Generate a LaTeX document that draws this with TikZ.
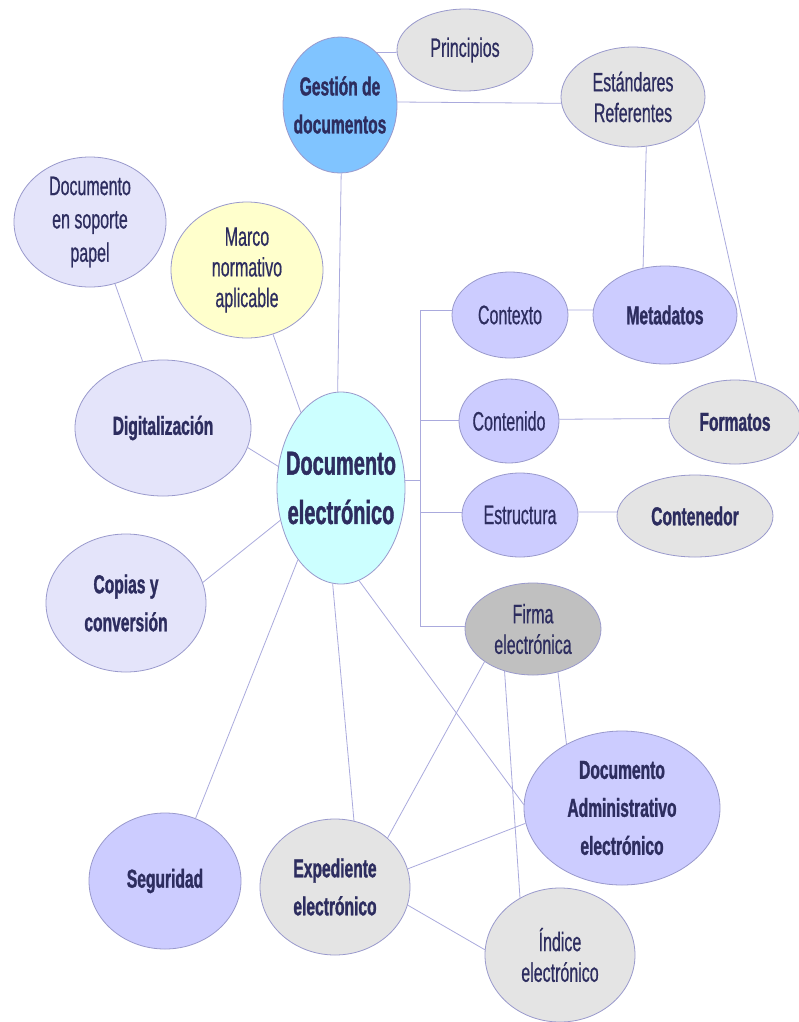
\documentclass[tikz,border=0pt]{standalone}
\usepackage{fontspec}
\setmainfont{Liberation Sans}[FakeStretch=0.6, UprightFeatures={FakeBold=0.6}, BoldFeatures={FakeBold=1.2}]
\usetikzlibrary{shapes.geometric}
\definecolor{cblue}{RGB}{128,196,255}
\definecolor{cgray}{RGB}{228,228,228}
\definecolor{clav}{RGB}{228,228,250}
\definecolor{cyel}{RGB}{255,255,204}
\definecolor{ccyan}{RGB}{204,255,255}
\definecolor{cper}{RGB}{204,204,255}
\definecolor{cfirma}{RGB}{192,192,192}
\definecolor{ink}{RGB}{45,45,95}
\definecolor{bord}{RGB}{153,153,204}
\definecolor{linec}{RGB}{170,170,221}
\tikzset{
  bub/.style={ellipse, draw=bord, line width=0.6pt, inner sep=0pt},
  rt/.style={font=\fontsize{20}{23}\selectfont, text=ink, align=center, inner sep=0pt},
  rtw/.style={font=\fontsize{20}{25}\selectfont, text=ink, align=center, inner sep=0pt},
  bt/.style={font=\fontsize{19.5}{28.5}\selectfont\bfseries, text=ink, align=center, inner sep=0pt},
  btl/.style={font=\fontsize{25}{37}\selectfont\bfseries, text=ink, align=center, inner sep=0pt},
  ln/.style={draw=linec, line width=0.6pt}
}
\newcommand\bubble[8]{%
  \node[bub, fill=#6, minimum width={#4*1.5pt}, minimum height={#5*1.5pt}] (#1) at (#2,#3) {};
  \node[#7] (#1-t) at (#1.center) {#8};}
\begin{document}
\begin{tikzpicture}[x=0.75pt,y=-0.75pt]
\useasboundingbox (0,0) rectangle (799,1022);
\fill[white] (0,0) rectangle (799,1022);
% nodes
\bubble{gest}{340}{105}{57}{68}{cblue}{bt}{Gestión de\\documentos}
\bubble{prin}{465}{50}{68}{41}{cgray}{rt}{Principios}
\bubble{estd}{633}{97}{72}{50}{cgray}{rt}{Estándares\\Referentes}
\bubble{papel}{90}{222}{76}{65}{clav}{rtw}{Documento\\en soporte\\papel}
\bubble{marco}{247}{270}{76}{68}{cyel}{rt}{Marco\\normativo\\aplicable}
\bubble{digit}{163}{428}{88}{68}{clav}{bt}{Digitalización}
\bubble{delec}{341}{488}{64}{96}{ccyan}{btl}{Documento\\electrónico}
\bubble{copias}{126}{603}{80}{69}{clav}{bt}{Copias y\\conversión}
\bubble{ctx}{510}{315}{58}{43}{cper}{rt}{Contexto}
\bubble{meta}{665}{315}{72}{49}{cper}{bt}{Metadatos}
\bubble{cont}{509}{421}{50}{42}{cper}{rt}{Contenido}
\bubble{fmt}{735}{422}{66}{42}{cgray}{bt}{Formatos}
\bubble{estr}{520}{515}{58}{42}{cper}{rt}{Estructura}
\bubble{cnt}{695}{516}{78}{41}{cgray}{bt}{Contenedor}
\bubble{firma}{533}{629}{68}{46}{cfirma}{rt}{Firma\\electrónica}
\bubble{seg}{165}{881}{76}{68}{cper}{bt}{Seguridad}
\bubble{exp}{335}{887}{75}{68}{cgray}{bt}{Expediente\\electrónico}
\bubble{dadm}{622}{808}{98}{77}{cper}{bt}{Documento\\Administrativo\\electrónico}
\bubble{ind}{560}{955}{75}{67}{cgray}{rt}{Índice\\electrónico}
% connectors
\coordinate (bx) at (420,0);
\draw[ln] (gest.55) -- (prin.182);
\draw[ln] (gest.3) -- (estd.185);
\draw[ln] (gest.-89) -- (delec.92);
\draw[ln] (estd.-75) -- (meta.115);
\draw[ln] (estd.-19) -- (fmt.62);
\draw[ln] (papel.-68) -- (digit.107);
\draw[ln] (marco.-68) -- (delec.118);
\draw[ln] (digit.-13) -- (delec.161);
\draw[ln] (copias.15) -- (delec.208);
\draw[ln] (delec.239) -- (seg.64);
\draw[ln] (delec.265) -- (exp.74);
\draw[ln] (delec.281) -- (dadm.178);
\draw[ln] (ctx.175) -- (ctx.175 -| bx) -- (firma.178 -| bx) -- (firma.178);
\draw[ln] (cont.179) -- (cont.179 -| bx);
\draw[ln] (estr.177) -- (estr.177 -| bx);
\draw[ln] (delec.7) -- (delec.7 -| bx);
\draw[ln] (ctx.5) -- (meta.176);
\draw[ln] (cont.2) -- (fmt.177);
\draw[ln] (estr.3) -- (cnt.177);
\draw[ln] (firma.214) -- (exp.43);
\draw[ln] (firma.236) -- (ind.125);
\draw[ln] (firma.300) -- (dadm.131);
\draw[ln] (exp.14) -- (dadm.189);
\draw[ln] (exp.-14) -- (ind.176);
\end{tikzpicture}
\end{document}
